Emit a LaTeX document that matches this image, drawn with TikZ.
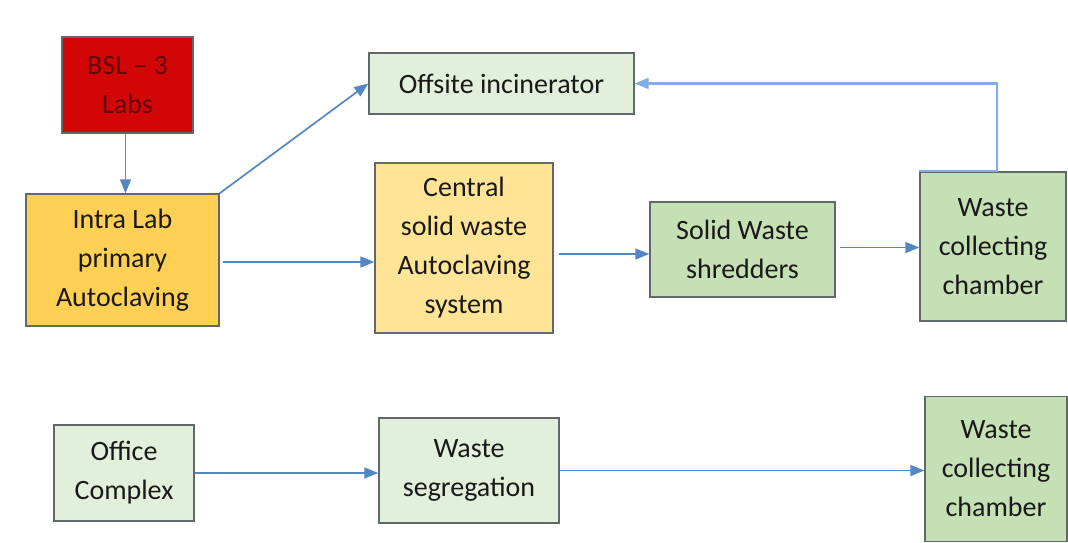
\documentclass[tikz,border=0pt]{standalone}
\usepackage{fontspec}
\setmainfont{Carlito}
\usetikzlibrary{arrows.meta}

\definecolor{labred}{RGB}{210,6,6}
\definecolor{labtext}{RGB}{100,4,4}
\definecolor{goldfill}{RGB}{255,208,84}
\definecolor{creamfill}{RGB}{255,228,150}
\definecolor{palegreen}{RGB}{226,239,218}
\definecolor{midgreen}{RGB}{197,224,180}
\definecolor{boxedge}{RGB}{96,104,108}
\definecolor{boxtext}{RGB}{25,25,25}
\definecolor{flowblue}{RGB}{84,134,196}
\definecolor{loopblue}{RGB}{132,172,228}

\tikzset{
  box/.style={draw=boxedge, line width=1.4pt, inner sep=0pt, align=center,
    text=boxtext, font=\fontsize{28}{39}\selectfont},
  flow/.style={draw=flowblue, line width=1.7pt,
    -{Triangle[length=14pt,width=11pt]}},
}

\begin{document}
\begin{tikzpicture}[x=1pt,y=-1pt]
    \useasboundingbox (0,0) rectangle (1068,543);

    % Lab stream
    \node[box, fill=labred, text=labtext, minimum width=131pt, minimum height=96pt]
        (bsl) at (127.5,85) {BSL -- 3\\Labs};
    \node[box, fill=goldfill, minimum width=193pt, minimum height=132pt]
        (intra) at (122.5,260) {Intra Lab\\primary\\Autoclaving};
    \node[box, fill=palegreen, minimum width=265pt, minimum height=61pt]
        (offsite) at (501.5,83.5) {Offsite incinerator};
    \node[box, fill=creamfill, minimum width=178pt, minimum height=170pt]
        (central) at (464,248) {Central\\solid waste\\Autoclaving\\system};
    \node[box, fill=midgreen, minimum width=185pt, minimum height=95pt]
        (shred) at (742.5,249.5) {Solid Waste\\shredders};
    \node[box, fill=midgreen, minimum width=146pt, minimum height=149pt]
        (chamber) at (993,246.5) {Waste\\collecting\\chamber};

    % Office stream
    \node[box, fill=palegreen, minimum width=140pt, minimum height=96pt]
        (office) at (124,473) {Office\\Complex};
    \node[box, fill=palegreen, minimum width=180pt, minimum height=105pt]
        (segreg) at (469,470.5) {Waste\\segregation};
    \node[box, fill=midgreen, minimum width=142pt, minimum height=145pt]
        (chamberb) at (996,469) {Waste\\collecting\\chamber};

    % Connectors
    \draw[flow] ([xshift=-2pt]bsl.south) -- ([xshift=-2pt]bsl.south |- intra.north);
    \draw[flow] (intra.north east) -- (offsite.west);
    \draw[flow, shorten <=3pt] ([yshift=-2pt]intra.east) -- ([yshift=-2pt]intra.east -| central.west);
    \draw[flow, shorten <=5pt] ([yshift=-6pt]central.east) -- ([yshift=-6pt]central.east -| shred.west);
    \draw[flow, shorten <=4pt] ([yshift=2pt]shred.east) -- ([yshift=2pt]shred.east -| chamber.west);

    % Return line to the incinerator
    \coordinate (bend) at (997,83.5);
    \draw[flow, draw=loopblue, line width=2.2pt] (chamber.north west) -| (bend) -- (offsite.east);

    \draw[flow] (office.east) -- (office.east -| segreg.west);
    \draw[flow] (segreg.east) -- (segreg.east -| chamberb.west);

\end{tikzpicture}
\end{document}
